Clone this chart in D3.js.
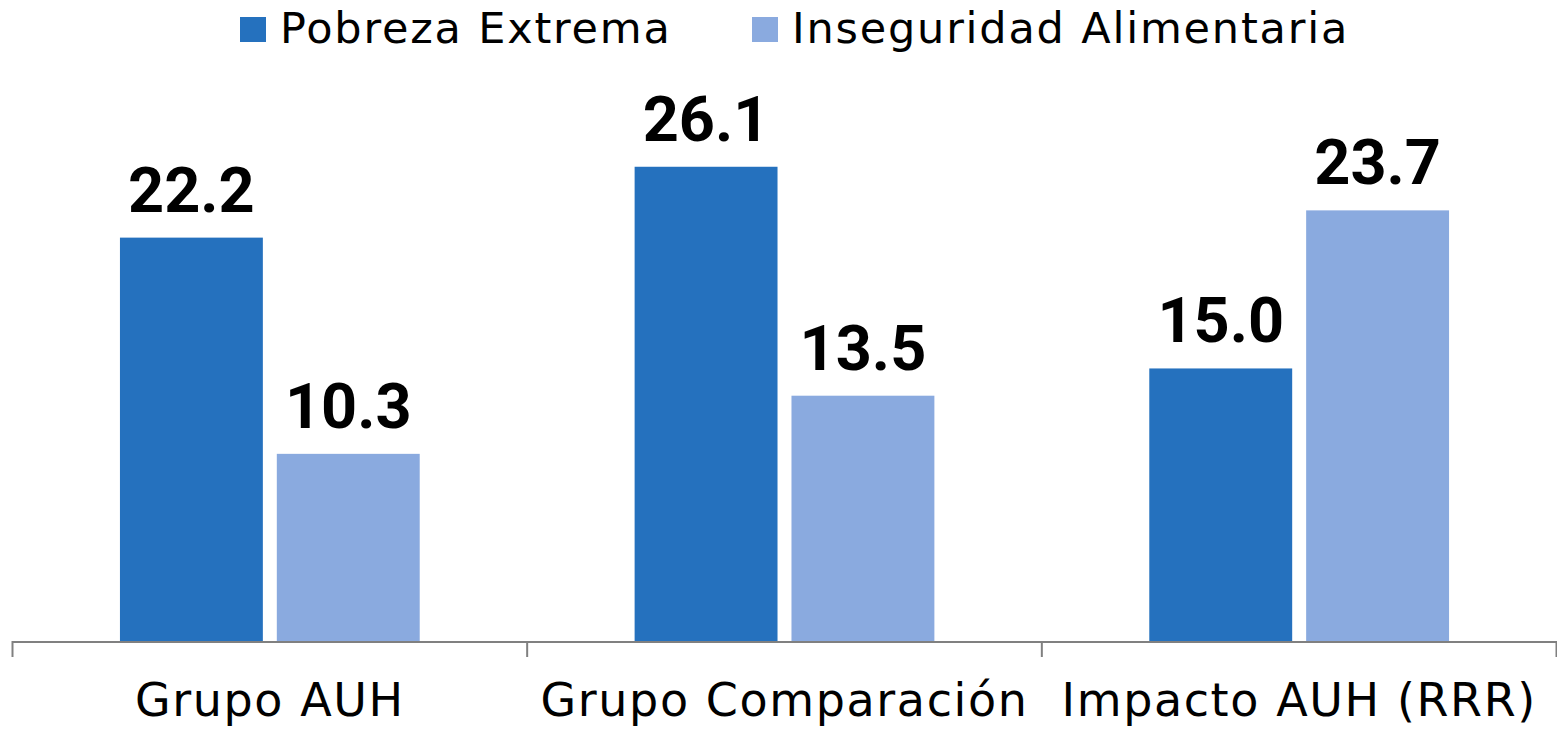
<!DOCTYPE html>
<html>
<head>
<meta charset="utf-8">
<script src="https://cdn.jsdelivr.net/npm/d3@7"></script>
<style>
  body { margin: 0; background: white; }
  svg { display: block; }
</style>
</head>
<body>
<div id="chart"></div>
<script>
// Values.
const categories = ["Grupo AUH", "Grupo Comparación", "Impacto AUH (RRR)"];
const series = ["Pobreza Extrema", "Inseguridad Alimentaria"];
const pobrezaExtrema = [22.2, 26.1, 15.0];
const inseguridadAlimentaria = [10.3, 13.5, 23.7];
const colors = ["#2571BE", "#8AAADF"];

const width = 1557, height = 729;

let svg = d3.select("#chart")
  .append("svg")
    .attr("width", width)
    .attr("height", height);

// Scales.
let x0 = d3.scaleBand()
  .domain(categories)
  .range([12.5, 1556.5]);

let x1 = d3.scaleBand()
  .domain(series)
  .range([0, x0.bandwidth()])
  .paddingInner(0.089)
  .paddingOuter(0.685);

let y = d3.scaleLinear()
  .domain([0, 30])
  .range([641, 641 - 30*18.17]);

// Flatten into rows for the bars.
let rows = [];
categories.forEach((c, i) => {
	rows.push({cat: c, s: series[0], v: pobrezaExtrema[i], color: colors[0]});
	rows.push({cat: c, s: series[1], v: inseguridadAlimentaria[i], color: colors[1]});
}); // forEach

// Bars.
svg.append("g")
  .selectAll("rect")
  .data(rows)
  .enter()
  .append("rect")
    .attr("x", d => x0(d.cat) + x1(d.s))
    .attr("y", d => y(d.v))
    .attr("width", x1.bandwidth())
    .attr("height", d => y(0) - y(d.v))
    .attr("fill", d => d.color);

// Value labels.
svg.append("g")
  .selectAll("text")
  .data(rows)
  .enter()
  .append("text")
    .attr("x", d => x0(d.cat) + x1(d.s) + x1.bandwidth()/2)
    .attr("y", d => y(d.v) - 26)
    .attr("text-anchor", "middle")
    .style("font-family", "Roboto, sans-serif")
    .style("font-weight", 700)
    .style("font-size", "63px")
    .attr("fill", "#000")
    .text(d => d.v.toFixed(1));

// Category axis: ticks sit on the band edges, not the centres.
let axis = svg.append("g").attr("stroke", "#808080").attr("stroke-width", 2);
axis.append("line")
  .attr("x1", x0.range()[0])
  .attr("x2", x0.range()[1])
  .attr("y1", y(0) + 1)
  .attr("y2", y(0) + 1);

let edges = categories.map(c => x0(c)).concat([x0.range()[1]]);
axis.selectAll("line.tick")
  .data(edges)
  .enter()
  .append("line")
    .attr("class", "tick")
    .attr("x1", d => d)
    .attr("x2", d => d)
    .attr("y1", y(0))
    .attr("y2", y(0) + 16);

svg.append("g")
  .selectAll("text")
  .data(categories)
  .enter()
  .append("text")
    .attr("x", d => x0(d) + x0.bandwidth()/2)
    .attr("y", 716)
    .attr("text-anchor", "middle")
    .style("font-family", "'DejaVu Sans', sans-serif")
    .style("font-size", "46px")
    .style("letter-spacing", "1.6px")
    .attr("fill", "#000")
    .text(d => d);

// Legend.
const legendX = [240, 752];
let legend = svg.append("g")
  .selectAll("g")
  .data(series)
  .enter()
  .append("g")
    .attr("transform", (d, i) => `translate(${legendX[i]},17)`);

legend.append("rect")
  .attr("width", 26)
  .attr("height", 25)
  .attr("fill", (d, i) => colors[i]);

legend.append("text")
  .attr("x", 40)
  .attr("y", 26)
  .style("font-family", "'DejaVu Sans', sans-serif")
  .style("font-size", "43px")
  .style("letter-spacing", "1.8px")
  .attr("fill", "#000")
  .text(d => d);
</script>
</body>
</html>
